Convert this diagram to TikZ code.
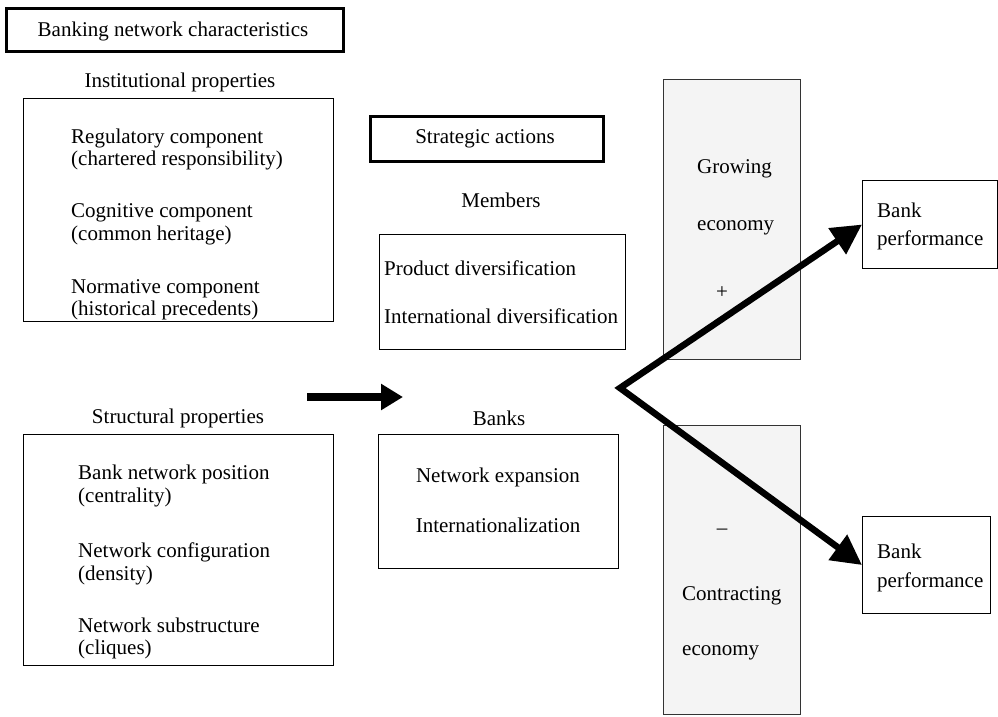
\documentclass[tikz,border=0pt]{standalone}
\usepackage{fontspec}
\setmainfont{Liberation Serif}
\usetikzlibrary{arrows.meta}
\definecolor{econfill}{RGB}{244,244,244}
\begin{document}
\begin{tikzpicture}[x=1pt,y=-1pt,
  box/.style={draw, line width=1pt, inner sep=0pt, anchor=north west},
  thickbox/.style={draw, line width=2.6pt, inner sep=0pt, anchor=north west},
  econbox/.style={draw=black!80, fill=econfill, line width=1pt, inner sep=0pt, anchor=north west},
  txt/.style={inner sep=0pt, anchor=base west, font=\fontsize{21}{25}\selectfont},
  ctxt/.style={txt, anchor=base},
  bigarrow/.style={line width=6.5pt, line join=miter},
  midarrow/.style={line width=8pt, -{Triangle[length=22pt,width=25pt]}}
]
\useasboundingbox (0,0) rectangle (998,716);

% title
\node[thickbox, minimum width=337pt, minimum height=43pt] (title) at (5,7) {};
\node[ctxt] (titlet) at (173,36) {Banking network characteristics};

% institutional
\node[ctxt] (instl) at (180,87) {Institutional properties};
\node[box, minimum width=310pt, minimum height=223pt] (inst) at (23,98) {};
\node[txt] (i1) at (71,143) {Regulatory component};
\node[txt] (i2) at (71,165) {(chartered responsibility)};
\node[txt] (i3) at (71,217) {Cognitive component};
\node[txt] (i4) at (71,240) {(common heritage)};
\node[txt] (i5) at (71,293) {Normative component};
\node[txt] (i6) at (71,315) {(historical precedents)};

% structural
\node[ctxt] (strl) at (178,423) {Structural properties};
\node[box, minimum width=310pt, minimum height=231pt] (str) at (23,434) {};
\node[txt] (s1) at (78,479) {Bank network position};
\node[txt] (s2) at (78,502) {(centrality)};
\node[txt] (s3) at (78,557) {Network configuration};
\node[txt] (s4) at (78,580) {(density)};
\node[txt] (s5) at (78,632) {Network substructure};
\node[txt] (s6) at (78,654) {(cliques)};

% strategic actions
\node[thickbox, minimum width=233pt, minimum height=45pt] (strat) at (369,115) {};
\node[ctxt] (stratt) at (485,143) {Strategic actions};

% members
\node[ctxt] (meml) at (501,207) {Members};
\node[box, minimum width=246pt, minimum height=115pt] (mem) at (379,234) {};
\node[txt] (m1t) at (384,275) {Product diversification};
\node[txt] (m2t) at (384,323) {International diversification};

% banks
\node[ctxt] (bankl) at (499,425) {Banks};
\node[box, minimum width=240pt, minimum height=134pt] (bank) at (378,434) {};
\node[ctxt] (b1) at (498,482) {Network expansion};
\node[ctxt] (b2) at (498,532) {Internationalization};

% economies
\node[econbox, minimum width=137pt, minimum height=280pt] (grow) at (663,79) {};
\node[txt] (g1) at (697,173) {Growing};
\node[txt] (g2) at (697,230) {economy};
\node[ctxt] (gplus) at (722,298) {+};
\node[econbox, minimum width=137pt, minimum height=289pt] (contr) at (663,425) {};
\node[ctxt] (cminus) at (722,534) {\textendash};
\node[txt] (c1) at (682,600) {Contracting};
\node[txt] (c2) at (682,655) {economy};

% bank performance
\node[box, minimum width=135pt, minimum height=88pt] (bp1) at (862,180) {};
\node[txt] (bp1a) at (877,217) {Bank};
\node[txt] (bp1b) at (877,245) {performance};
\node[box, minimum width=128pt, minimum height=97pt] (bp2) at (862,516) {};
\node[txt] (bp2a) at (877,558) {Bank};
\node[txt] (bp2b) at (877,587) {performance};

% arrows
\coordinate (ma) at (307,397);
\coordinate (mb) at (403,397);
\draw[midarrow] (ma) -- (mb);

\coordinate (v) at (620,388);
\draw[bigarrow, {Triangle[length=30pt,width=30pt]}-{Triangle[length=30pt,width=30pt]}]
  (bp1.west) -- (v) -- (bp2.west);
\end{tikzpicture}
\end{document}
